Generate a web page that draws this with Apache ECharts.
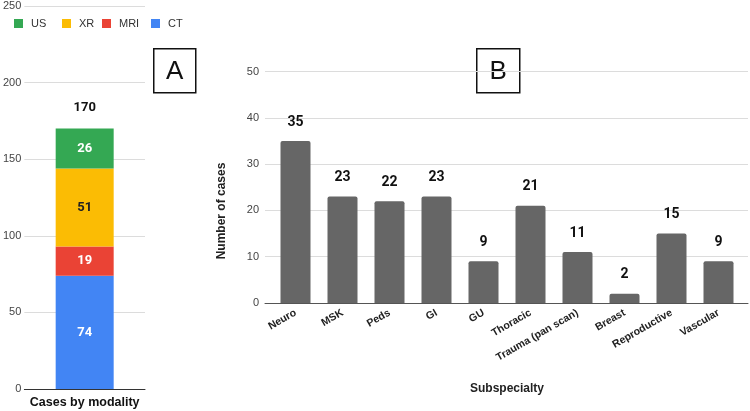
<!DOCTYPE html>
<html>
<head>
<meta charset="utf-8">
<script src="https://cdn.jsdelivr.net/npm/echarts@6/dist/echarts.min.js"></script>
<style>
  html, body { margin: 0; padding: 0; background: #fff; }
  #main { width: 750px; height: 411px; }
</style>
</head>
<body>
<div id="main"></div>
<script>
// panel A - cases by modality (stacked, bottom to top)
const modalities = ['CT', 'MRI', 'XR', 'US'];
const modalityCounts = [74, 19, 51, 26];
const modalityColors = ['#4285F4', '#EA4335', '#FBBC04', '#34A853'];
const modalityLabelColors = ['#fff', '#fff', '#222', '#fff'];
const legendOrder = ['US', 'XR', 'MRI', 'CT'];
const legendLeft = [14, 62, 102, 151];
const modalityCategory = ['Cases by modality'];

// panel B - cases by subspecialty
const subspecialties = ['Neuro', 'MSK', 'Peds', 'GI', 'GU', 'Thoracic',
  'Trauma (pan scan)', 'Breast', 'Reproductive', 'Vascular'];
const subspecialtyCounts = [35, 23, 22, 23, 9, 21, 11, 2, 15, 9];

const axisFont = 'Arial, "Liberation Sans", sans-serif';
const valueFont = 'Roboto, Arial, sans-serif';

let myChart = echarts.init(document.getElementById('main'));

const total = modalityCounts.reduce((a, b) => a + b, 0);

let modalitySeries = modalities.map((name, i) => ({
  name: name,
  type: 'bar',
  stack: 'mod',
  xAxisIndex: 0,
  yAxisIndex: 0,
  barWidth: 58,
  itemStyle: { color: modalityColors[i] },
  label: {
    show: true,
    position: 'inside',
    color: modalityLabelColors[i],
    fontFamily: valueFont,
    fontWeight: 'bold',
    fontSize: 13
  },
  data: [modalityCounts[i]]
}));

// zero-height bar on top of the stack, carries the total label
modalitySeries.push({
  name: 'Total',
  type: 'bar',
  stack: 'mod',
  xAxisIndex: 0,
  yAxisIndex: 0,
  barWidth: 58,
  itemStyle: { color: 'transparent' },
  label: {
    show: true,
    position: 'top',
    distance: 14,
    formatter: () => String(total),
    color: '#111',
    fontFamily: valueFont,
    fontWeight: 'bold',
    fontSize: 13
  },
  data: [0]
});

// one legend per item so the uneven spacing of the original can be kept
let legends = legendOrder.map((name, i) => ({
  data: [name],
  left: legendLeft[i],
  top: 18,
  padding: 0,
  icon: 'rect',
  itemWidth: 9,
  itemHeight: 9,
  textStyle: { fontFamily: axisFont, fontSize: 11, color: '#333', padding: [0, 0, 0, 3] }
}));

let option = {
  animation: false,
  legend: legends,
  grid: [
    { left: 22, right: 605, top: 6, bottom: 22 },
    // bars of panel B
    { left: 272, right: 8, top: 71.6, bottom: 108 },
    // background grid lines of panel B
    { left: 265, right: 2, top: 71.6, bottom: 108 }
  ],
  xAxis: [
    {
      gridIndex: 0,
      type: 'category',
      data: modalityCategory,
      axisTick: { show: false },
      axisLine: { lineStyle: { color: '#333' } },
      axisLabel: {
        margin: 7,
        fontFamily: axisFont,
        fontWeight: 'bold',
        fontSize: 12.5,
        color: '#111'
      }
    },
    {
      gridIndex: 1,
      type: 'category',
      data: subspecialties,
      axisTick: { show: false },
      axisLine: { show: false },
      axisLabel: {
        rotate: 30,
        interval: 0,
        margin: 9,
        fontFamily: axisFont,
        fontWeight: 'bold',
        fontSize: 10.5,
        color: '#222'
      },
      name: 'Subspecialty',
      nameLocation: 'middle',
      nameGap: 80,
      nameTextStyle: {
        fontFamily: axisFont,
        fontWeight: 'bold',
        fontSize: 12,
        color: '#222'
      }
    },
    {
      gridIndex: 2,
      type: 'category',
      data: subspecialties,
      axisTick: { show: false },
      axisLabel: { show: false },
      axisLine: { lineStyle: { color: '#555' } }
    }
  ],
  yAxis: [
    {
      gridIndex: 0,
      type: 'value',
      min: 0,
      max: 250,
      interval: 50,
      axisLabel: { margin: 3, fontFamily: axisFont, fontSize: 11, color: '#444' },
      splitLine: { lineStyle: { color: '#dcdcdc' } }
    },
    {
      gridIndex: 1,
      type: 'value',
      min: 0,
      max: 50,
      interval: 10,
      axisLabel: { show: false },
      splitLine: { show: false }
    },
    {
      gridIndex: 2,
      type: 'value',
      min: 0,
      max: 50,
      interval: 10,
      axisLabel: { margin: 6, fontFamily: axisFont, fontSize: 11, color: '#444' },
      splitLine: { lineStyle: { color: '#dcdcdc' } }
    }
  ],
  graphic: [
    {
      type: 'group',
      left: 153,
      top: 48,
      children: [
        { type: 'rect', shape: { x: 0, y: 0, width: 42, height: 44 },
          style: { fill: '#fff', stroke: '#111', lineWidth: 1.5 } },
        { type: 'text', x: 21, y: 23,
          style: { text: 'A', fontFamily: axisFont, fontSize: 26, fill: '#111',
                   align: 'center', verticalAlign: 'middle' } }
      ]
    },
    {
      type: 'group',
      left: 476,
      top: 48,
      children: [
        { type: 'rect', shape: { x: 0, y: 0, width: 43, height: 44 },
          style: { fill: '#fff', stroke: '#111', lineWidth: 1.5 } },
        { type: 'text', x: 21.5, y: 23,
          style: { text: 'B', fontFamily: axisFont, fontSize: 26, fill: '#111',
                   align: 'center', verticalAlign: 'middle' } }
      ]
    },
    {
      type: 'text',
      x: 222,
      y: 211,
      rotation: Math.PI / 2,
      style: { text: 'Number of cases', fontFamily: axisFont, fontWeight: 'bold',
               fontSize: 12, fill: '#222', align: 'center', verticalAlign: 'middle' }
    }
  ],
  series: modalitySeries.concat([
    {
      name: 'Cases',
      type: 'bar',
      xAxisIndex: 1,
      yAxisIndex: 1,
      barWidth: 30,
      itemStyle: { color: '#666666', borderRadius: [2, 2, 0, 0] },
      label: {
        show: true,
        position: 'top',
        distance: 12,
        color: '#111',
        fontFamily: valueFont,
        fontWeight: 'bold',
        fontSize: 14
      },
      data: subspecialtyCounts
    }
  ])
};

myChart.setOption(option);
</script>
</body>
</html>
